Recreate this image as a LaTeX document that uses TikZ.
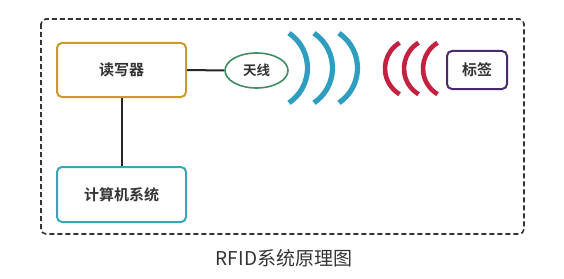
\documentclass[tikz,border=0pt]{standalone}
\usepackage{fontspec}
\setmainfont{Noto Sans CJK SC}
\newfontfamily\cjkb{Noto Sans CJK SC Bold}
\usetikzlibrary{shapes.geometric}
\definecolor{goldc}{HTML}{C99A2E}
\definecolor{greenc}{HTML}{3E8E63}
\definecolor{tealc}{HTML}{3AA6B5}
\definecolor{purplec}{HTML}{4A2A6A}
\definecolor{bluewave}{HTML}{2E9DBF}
\definecolor{redwave}{HTML}{C42040}
\definecolor{txt}{HTML}{333333}
\tikzset{
  box/.style={draw, line width=2pt, rounded corners=5pt, text=txt, inner sep=0pt, font=\cjkb\fontsize{15}{18}\selectfont},
  link/.style={line width=2pt, draw=black!85},
  bwave/.style={line width=5.2pt, draw=bluewave},
  rwave/.style={line width=4.6pt, draw=redwave},
}
\begin{document}
\begin{tikzpicture}[x=1pt,y=-1pt]
\useasboundingbox (0,0) rectangle (564,278);
\draw[line width=1.6pt, black!80, dash pattern=on 5pt off 3pt, rounded corners=5pt] (41,19) rectangle (524,234);
\node[box, draw=goldc, minimum width=129pt, minimum height=54pt] (reader) at (121.5,70) {读写器};
\node[box, draw=tealc, minimum width=129pt, minimum height=55pt] (computer) at (121.5,194.5) {计算机系统};
\node[ellipse, draw=greenc, line width=1.6pt, minimum width=63pt, minimum height=35pt, inner sep=0pt, text=txt, font=\cjkb\fontsize{13.5}{16}\selectfont] (antenna) at (256.5,70.5) {天线};
\node[box, draw=purplec, minimum width=60pt, minimum height=38pt] (tag) at (477,70) {标签};
\draw[link] (reader.east) -- (antenna.west);
\draw[link] (reader.south) -- (computer.north);
% blue waves
\foreach \cx in {265.5,290.5,315.5}{
  \draw[bwave] ([shift={(-56:42)}]\cx,68) arc[start angle=-56, end angle=56, radius=42];
}
% red waves
\foreach \cx in {415,434,453}{
  \draw[rwave] ([shift={(-121:30)}]\cx,68.5) arc[start angle=-121, end angle=-239, radius=30];
}
\node[text=txt, font=\fontsize{19}{23}\selectfont] (caption) at (284,258) {RFID系统原理图};
\end{tikzpicture}
\end{document}
